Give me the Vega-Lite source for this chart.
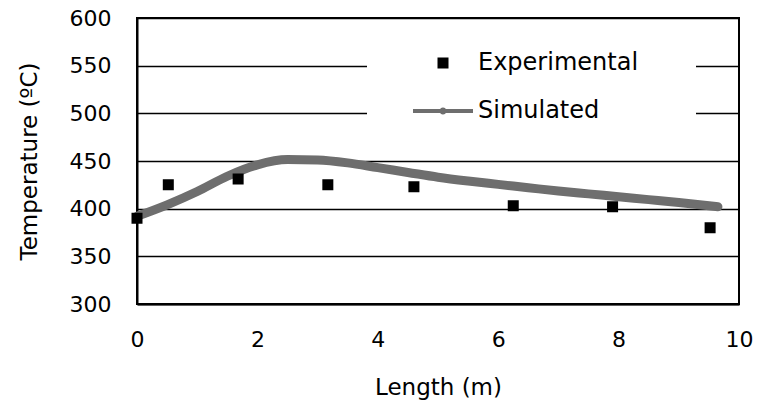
{
  "$schema": "https://vega.github.io/schema/vega-lite/v6.json",
  "autosize": "none",
  "padding": {"left": 137, "top": 18, "right": 20, "bottom": 101},
  "width": 602,
  "height": 286,
  "background": "white",
  "config": {
    "font": "DejaVu Sans",
    "view": {"stroke": "black", "strokeWidth": 2},
    "axis": {
      "labelFont": "DejaVu Sans",
      "titleFont": "DejaVu Sans",
      "labelFontSize": 22,
      "titleFontSize": 23,
      "titleFontWeight": "normal",
      "labelColor": "black",
      "titleColor": "black",
      "domainColor": "black",
      "domainWidth": 2,
      "ticks": false,
      "gridColor": "black",
      "gridWidth": 1.5,
      "gridOpacity": 1
    }
  },
  "datasets": {
    "experimental": [
      {"length": 0, "temp": 390, "series": "Experimental"},
      {"length": 0.52, "temp": 425, "series": "Experimental"},
      {"length": 1.68, "temp": 431, "series": "Experimental"},
      {"length": 3.17, "temp": 425, "series": "Experimental"},
      {"length": 4.6, "temp": 423, "series": "Experimental"},
      {"length": 6.25, "temp": 403, "series": "Experimental"},
      {"length": 7.9, "temp": 402, "series": "Experimental"},
      {"length": 9.52, "temp": 380, "series": "Experimental"}
    ],
    "simulated": [
      {"length": 0, "temp": 392},
      {"length": 0.5, "temp": 404},
      {"length": 1, "temp": 418},
      {"length": 1.5, "temp": 434},
      {"length": 2, "temp": 446},
      {"length": 2.5, "temp": 451.5},
      {"length": 3, "temp": 451},
      {"length": 3.5, "temp": 448},
      {"length": 4, "temp": 443},
      {"length": 4.5, "temp": 438},
      {"length": 5, "temp": 433},
      {"length": 5.5, "temp": 429},
      {"length": 6, "temp": 425.5},
      {"length": 6.5, "temp": 422},
      {"length": 7, "temp": 418.5},
      {"length": 7.5, "temp": 415.5},
      {"length": 8, "temp": 412.5},
      {"length": 8.5, "temp": 409.5},
      {"length": 9, "temp": 406.5},
      {"length": 9.65, "temp": 402}
    ]
  },
  "encoding": {
    "x": {
      "field": "length",
      "type": "quantitative",
      "scale": {"domain": [0, 10], "nice": false, "zero": false},
      "axis": {
        "title": "Length (m)",
        "values": [0, 2, 4, 6, 8, 10],
        "grid": false,
        "labelPadding": 25,
        "titlePadding": 26,
        "labelFlush": false
      }
    },
    "y": {
      "field": "temp",
      "type": "quantitative",
      "scale": {"domain": [300, 600], "nice": false, "zero": false},
      "axis": {
        "title": "Temperature (ºC)",
        "values": [300, 350, 400, 450, 500, 550, 600],
        "grid": true,
        "labelPadding": 26,
        "titlePadding": 28,
        "labelFlush": false
      }
    }
  },
  "layer": [
    {
      "data": {"name": "simulated"},
      "mark": {"type": "line", "color": "#6e6e6e", "strokeWidth": 9, "strokeCap": "round", "interpolate": "monotone"}
    },
    {
      "data": {"name": "experimental"},
      "mark": {"type": "point", "filled": true, "size": 400, "strokeWidth": 4, "opacity": 1},
      "encoding": {
        "color": {
          "field": "series",
          "type": "nominal",
          "scale": {"domain": ["Experimental", "Simulated"], "range": ["#000000", "#6e6e6e"]},
          "legend": {
            "title": "MMM",
            "titleOrient": "right",
            "titleColor": "white",
            "titleFontSize": 10,
            "titlePadding": 0,
            "orient": "none",
            "legendX": 230,
            "legendY": 5,
            "fillColor": "white",
            "strokeColor": null,
            "padding": 28,
            "symbolSize": 400,
            "symbolStrokeWidth": 4,
            "symbolOpacity": 1,
            "symbolOffset": 36,
            "labelFont": "DejaVu Sans",
            "labelFontSize": 24,
            "labelColor": "black",
            "labelOffset": 23,
            "labelLimit": 400,
            "rowPadding": 24
          }
        },
        "stroke": {
          "field": "series",
          "type": "nominal",
          "scale": {"domain": ["Experimental", "Simulated"], "range": ["#000000", "#6e6e6e"]}
        },
        "shape": {
          "field": "series",
          "type": "nominal",
          "scale": {
            "domain": ["Experimental", "Simulated"],
            "range": [
              "M-0.35,-0.35H0.35V0.35H-0.35Z",
              "M-3,0H3M-0.15,0A0.15,0.15 0 1,0 0.15,0A0.15,0.15 0 1,0 -0.15,0Z"
            ]
          }
        }
      }
    }
  ]
}
